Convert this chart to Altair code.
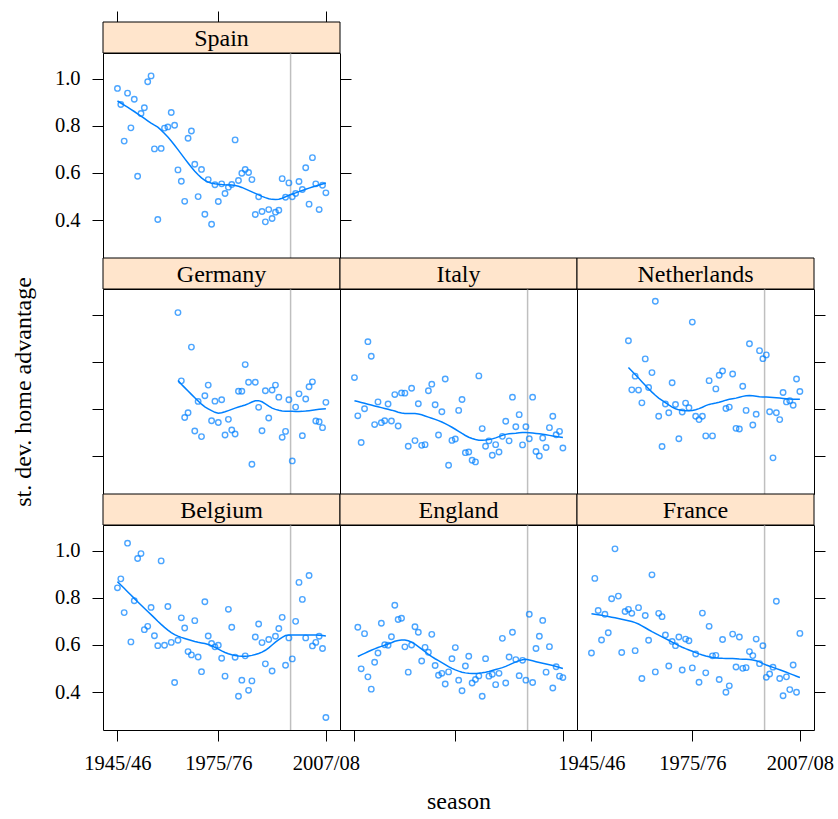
import altair as alt
import pandas as pd

# Standard deviation of home advantage per season, by league.
# Each series starts at the first season listed in `first_season`.
first_season = {
    "Spain": 1945,
    "Germany": 1963,
    "Italy": 1945,
    "Netherlands": 1956,
    "Belgium": 1945,
    "England": 1946,
    "France": 1945,
}

spain = [0.958, 0.890, 0.735, 0.938, 0.791, 0.912, 0.586, 0.852, 0.876, 0.986,
         1.011, 0.702, 0.403, 0.704, 0.790, 0.795, 0.856, 0.802, 0.613, 0.565,
         0.480, 0.747, 0.778, 0.637, 0.500, 0.615, 0.425, 0.572, 0.383, 0.550,
         0.479, 0.554, 0.513, 0.540, 0.551, 0.740, 0.568, 0.599, 0.615, 0.602,
         0.572, 0.424, 0.499, 0.437, 0.393, 0.445, 0.407, 0.434, 0.442, 0.576,
         0.497, 0.558, 0.499, 0.513, 0.564, 0.530, 0.622, 0.468, 0.665, 0.554,
         0.445, 0.548, 0.516]

germany = [1.008, 0.719, 0.564, 0.584, 0.862, 0.507, 0.632, 0.483, 0.656, 0.701,
           0.550, 0.633, 0.543, 0.639, 0.490, 0.556, 0.511, 0.494, 0.675, 0.675,
           0.788, 0.713, 0.366, 0.713, 0.607, 0.508, 0.677, 0.562, 0.680, 0.701,
           0.650, 0.480, 0.505, 0.639, 0.380, 0.608, 0.664, 0.487, 0.642, 0.694,
           0.715, 0.549, 0.546, 0.521, 0.628]

italy = [0.733, 0.571, 0.458, 0.601, 0.885, 0.823, 0.534, 0.630, 0.542, 0.550,
         0.621, 0.549, 0.661, 0.528, 0.668, 0.667, 0.442, 0.688, 0.466, 0.622,
         0.446, 0.449, 0.677, 0.705, 0.618, 0.490, 0.588, 0.727, 0.362, 0.467,
         0.473, 0.594, 0.640, 0.415, 0.418, 0.383, 0.376, 0.740, 0.517, 0.442,
         0.465, 0.404, 0.449, 0.418, 0.484, 0.548, 0.465, 0.650, 0.525, 0.576,
         0.448, 0.525, 0.474, 0.650, 0.420, 0.401, 0.477, 0.437, 0.521, 0.569,
         0.491, 0.505, 0.435]

netherlands = [0.889, 0.681, 0.739, 0.680, 0.626, 0.812, 0.691, 0.754, 1.056, 0.569,
               0.441, 0.621, 0.584, 0.711, 0.619, 0.474, 0.587, 0.625, 0.605, 0.968,
               0.569, 0.555, 0.569, 0.486, 0.720, 0.486, 0.685, 0.743, 0.761, 0.602,
               0.608, 0.748, 0.518, 0.515, 0.696, 0.594, 0.876, 0.532, 0.578, 0.847,
               0.813, 0.829, 0.588, 0.393, 0.584, 0.555, 0.670, 0.630, 0.635, 0.616,
               0.727, 0.674]

belgium = [0.842, 0.880, 0.737, 1.031, 0.613, 0.787, 0.966, 0.987, 0.665, 0.679,
           0.759, 0.639, 0.597, 0.956, 0.599, 0.763, 0.611, 0.441, 0.620, 0.715,
           0.672, 0.572, 0.558, 0.703, 0.549, 0.487, 0.783, 0.638, 0.606, 0.592,
           0.599, 0.544, 0.468, 0.751, 0.675, 0.548, 0.383, 0.451, 0.554, 0.408,
           0.448, 0.634, 0.689, 0.610, 0.520, 0.623, 0.490, 0.637, 0.670, 0.717,
           0.514, 0.630, 0.541, 0.700, 0.865, 0.793, 0.630, 0.894, 0.596, 0.611,
           0.637, 0.585, 0.293]

england = [0.675, 0.499, 0.648, 0.465, 0.413, 0.527, 0.566, 0.692, 0.601, 0.599,
           0.635, 0.768, 0.708, 0.713, 0.592, 0.485, 0.600, 0.677, 0.654, 0.532,
           0.590, 0.569, 0.645, 0.513, 0.472, 0.480, 0.435, 0.486, 0.542, 0.589,
           0.451, 0.406, 0.511, 0.552, 0.439, 0.454, 0.469, 0.383, 0.542, 0.468,
           0.476, 0.432, 0.480, 0.628, 0.439, 0.549, 0.654, 0.538, 0.470, 0.535,
           0.451, 0.730, 0.441, 0.585, 0.637, 0.704, 0.485, 0.593, 0.418, 0.508,
           0.468, 0.462]

france = [0.566, 0.882, 0.746, 0.621, 0.730, 0.652, 0.796, 1.007, 0.807, 0.568,
          0.742, 0.751, 0.734, 0.576, 0.758, 0.458, 0.725, 0.620, 0.897, 0.486,
          0.734, 0.720, 0.642, 0.511, 0.615, 0.597, 0.634, 0.494, 0.625, 0.618,
          0.503, 0.562, 0.442, 0.735, 0.482, 0.679, 0.554, 0.556, 0.454, 0.623,
          0.400, 0.427, 0.646, 0.507, 0.634, 0.501, 0.504, 0.572, 0.555, 0.625,
          0.521, 0.597, 0.463, 0.477, 0.506, 0.785, 0.458, 0.385, 0.465, 0.411,
          0.515, 0.400, 0.649]

series = {
    "Spain": spain,
    "Germany": germany,
    "Italy": italy,
    "Netherlands": netherlands,
    "Belgium": belgium,
    "England": england,
    "France": france,
}

tick_years = [1945, 1975, 2007]
tick_labels = ["1945/46", "1975/76", "2007/08"]
y_ticks = [0.4, 0.6, 0.8, 1.0]
bosman_line = [1996.5]

x_domain = [1940.7, 2011.2]
y_domain = [0.24, 1.108]

records = []
for name, values in series.items():
    start = first_season[name]
    for k, v in enumerate(values):
        records.append({"country": name, "season": start + k, "sd": v})
df = pd.DataFrame(records)

W, H, STRIP = 237, 205, 31
FONT = "Liberation Serif, Times New Roman, Times, serif"
BLUE = "#0080ff"
TICK = 11
LABEL_SIZE = 20.5

season_label = "{" + ",".join(f"'{y}':'{l}'" for y, l in zip(tick_years, tick_labels)) + "}[datum.value]"

xs = alt.Scale(domain=x_domain, nice=False, zero=False)
ys = alt.Scale(domain=y_domain, nice=False, zero=False)


def x_axis(orient, labels, title=None, offset=0):
    kw = dict(orient=orient, values=tick_years, labels=labels, labelExpr=season_label,
              domain=False, grid=False, tickSize=TICK, offset=offset,
              labelPadding=12, labelFontSize=LABEL_SIZE, title=title or "")
    if title:
        kw["titlePadding"] = 48
    return alt.Axis(**kw)


def y_axis(orient, labels, title=None):
    kw = dict(orient=orient, values=y_ticks, labels=labels, format=".1f",
              domain=False, grid=False, tickSize=TICK, labelPadding=12,
              labelFontSize=LABEL_SIZE, title=title or "")
    if title:
        kw["titlePadding"] = 56
    return alt.Axis(**kw)


def panel(name, left=None, right=False, top=False, bottom=None,
          ytitle=None, xtitle=None):
    base = alt.Chart(df).transform_filter(alt.datum.country == name)

    pts_x = alt.X("season:Q", scale=xs,
                  axis=x_axis("bottom", bottom == "labels", xtitle) if bottom else None)
    pts_y = alt.Y("sd:Q", scale=ys,
                  axis=y_axis("left", left == "labels", ytitle) if left else None)
    points = base.mark_point(filled=False, color=BLUE, size=30, strokeWidth=1.4).encode(
        x=pts_x, y=pts_y)

    line_x = alt.X("season:Q", scale=xs,
                   axis=x_axis("top", False, offset=STRIP) if top else None)
    line_y = alt.Y("sd:Q", scale=ys, axis=y_axis("right", False) if right else None)
    smooth = base.transform_loess("season", "sd", bandwidth=0.4).mark_line(
        color=BLUE, strokeWidth=1.5).encode(x=line_x, y=line_y)

    rule = alt.Chart(pd.DataFrame({"season": bosman_line})).mark_rule(
        color="#bfbfbf", strokeWidth=1.5).encode(
        x=alt.X("season:Q", scale=xs, axis=None))

    label_df = pd.DataFrame({"country": [name]})
    strip = alt.Chart(label_df).mark_rect(
        fill="#ffe5cc", stroke="black", strokeWidth=1).encode(
        x=alt.value(0), x2=alt.value(W), y=alt.value(-STRIP), y2=alt.value(0))
    strip_text = alt.Chart(label_df).mark_text(
        font=FONT, fontSize=24, color="black", baseline="middle").encode(
        x=alt.value(W / 2), y=alt.value(-STRIP / 2 + 1), text="country:N")

    return alt.layer(rule, points, smooth, strip, strip_text).resolve_axis(
        x="independent", y="independent").properties(width=W, height=H)


def blank():
    return alt.Chart(pd.DataFrame({"v": [0.5]})).mark_point(opacity=0).encode(
        x=alt.X("v:Q", axis=None), y=alt.Y("v:Q", axis=None)
    ).properties(width=W, height=H, view=alt.ViewBackground(stroke="transparent"))


cells = [
    panel("Spain", left="labels", right=True, top=True),
    blank(), blank(),
    panel("Germany", left="ticks", ytitle="st. dev. home advantage"),
    panel("Italy"),
    panel("Netherlands", right=True),
    panel("Belgium", left="labels", bottom="labels"),
    panel("England", bottom="ticks", xtitle="season"),
    panel("France", right=True, bottom="labels"),
]

chart = alt.concat(
    *cells, columns=3, spacing={"row": STRIP, "column": 0}, bounds="flush"
).properties(
    padding={"left": 11, "top": 10, "right": 2, "bottom": 5},
    background="white",
).configure_view(
    stroke="black", strokeWidth=1
).configure_axis(
    labelFont=FONT, titleFont=FONT, labelColor="black", titleColor="black",
    tickColor="black", tickWidth=1, titleFontSize=24, titleFontWeight="normal",
)

chart.save("out.html", embed_options={"renderer": "svg", "actions": False})
